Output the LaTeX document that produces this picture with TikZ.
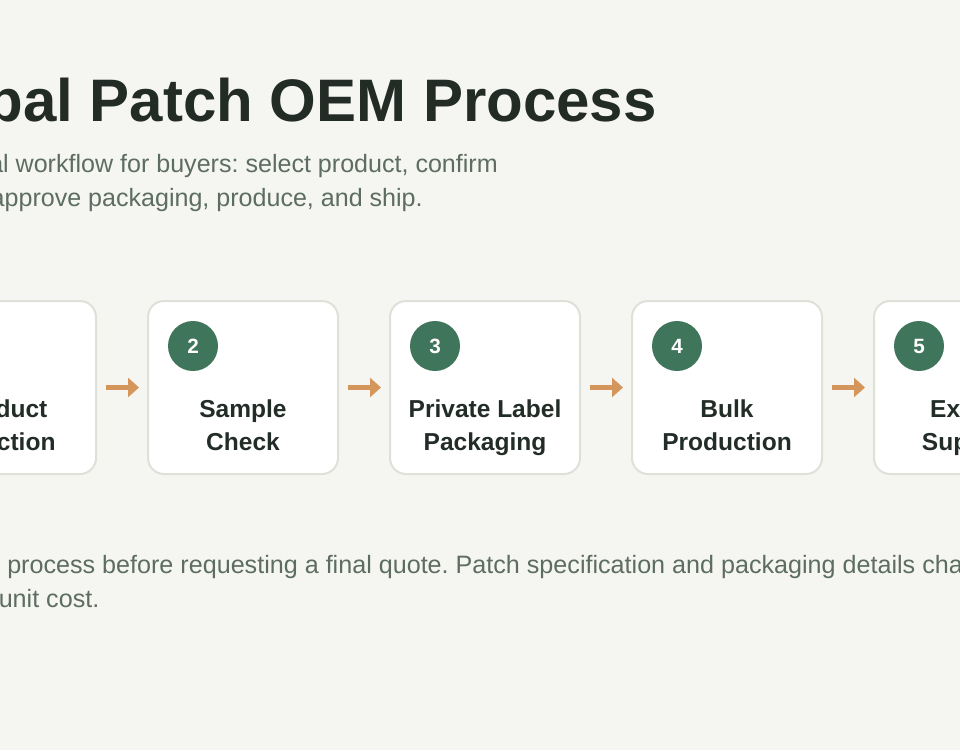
\documentclass[tikz,border=0pt]{standalone}
\usepackage{fontspec}
\setmainfont{Liberation Sans}
\usetikzlibrary{arrows.meta}
\frenchspacing
\definecolor{bgc}{HTML}{F5F6F1}
\definecolor{titlec}{HTML}{222B25}
\definecolor{subc}{HTML}{5D6D62}
\definecolor{cardborder}{HTML}{DEE1D8}
\definecolor{cardtext}{HTML}{232D27}
\definecolor{badgec}{HTML}{3F765B}
\definecolor{arrowc}{HTML}{D4965A}
\tikzset{
  titletext/.style={inner sep=0pt, text=titlec, font=\fontsize{45}{54}\selectfont\bfseries},
  subtext/.style={inner sep=0pt, text=subc, font=\fontsize{18.8}{22}\selectfont},
  foottext/.style={inner sep=0pt, text=subc, font=\fontsize{18.85}{22}\selectfont},
  card/.style={draw=cardborder, line width=1.5pt, fill=white, rounded corners=12pt,
    minimum width=142.5pt, minimum height=129.75pt, inner sep=0pt},
  badge/.style={circle, fill=badgec, minimum size=37.5pt, inner sep=0pt, text=white,
    font=\fontsize{15.5}{18}\selectfont\bfseries},
  cardlabel/.style={inner sep=0pt, text=cardtext, font=\fontsize{18.4}{22}\selectfont\bfseries, anchor=base},
  flow/.style={draw=arrowc, line width=3.75pt, -{Triangle[length=8.25pt, width=14.25pt, fill=arrowc]}}
}
\begin{document}
\begin{tikzpicture}[x=0.75pt, y=-0.75pt]
\useasboundingbox (0,0) rectangle (960,750);
\fill[bgc] (0,0) rectangle (960,750);
\clip (0,0) rectangle (960,750);

\node[titletext, anchor=base east] (title) at (657,121) {Global Patch OEM Process};
\node[subtext, anchor=base east] (sub1) at (498,172) {al workflow for buyers: select product, confirm};
\node[subtext, anchor=base east] (sub2) at (423,206) {approve packaging, produce, and ship.};

\foreach \i/\na/\nb in {1/Product/Selection, 2/Sample/Check, 3/Private Label/Packaging, 4/Bulk/Production, 5/Export/Support}{
  \pgfmathsetmacro{\cx}{1+242*(\i-1)}
  \node[card] (c\i) at (\cx,387.5) {};
  \node[badge] (b\i) at (\cx-50,346) {\i};
  \node[cardlabel] (t\i a) at (\cx,417) {\na};
  \node[cardlabel] (t\i b) at (\cx,450) {\nb};
}
\foreach \i/\j in {1/2,2/3,3/4,4/5}{
  \draw[flow] ([xshift=6.75pt]c\i.east) -- ([xshift=-6pt]c\j.west);
}

\node[foottext, anchor=base west] (foot1) at (7,573) {process before requesting a final quote. Patch specification and packaging details changes};
\node[foottext, anchor=base west] (foot2) at (-1.5,607) {unit cost.};
\end{tikzpicture}
\end{document}
